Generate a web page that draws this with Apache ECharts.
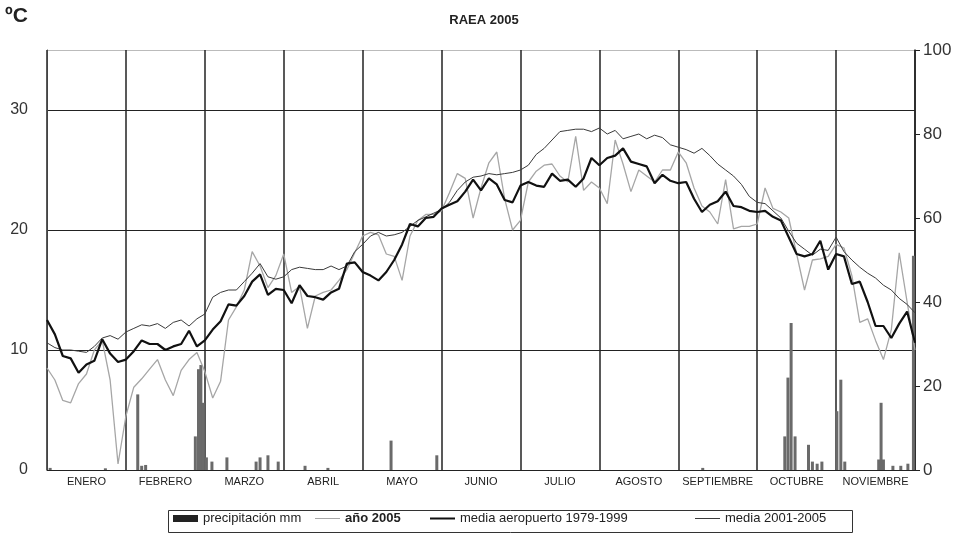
<!DOCTYPE html>
<html>
<head>
<meta charset="utf-8">
<title>RAEA 2005</title>
<script src="https://cdn.jsdelivr.net/npm/echarts@6/dist/echarts.min.js"></script>
<style>
  html, body { margin: 0; padding: 0; background: #fff; }
  #chart { width: 968px; height: 541px; }
</style>
</head>
<body>
<div id="chart"></div>
<script>
// month names (x axis labels)
const months = ['ENERO', 'FEBRERO', 'MARZO', 'ABRIL', 'MAYO', 'JUNIO', 'JULIO', 'AGOSTO', 'SEPTIEMBRE', 'OCTUBRE', 'NOVIEMBRE'];

// temperature readings every 0.1 month, from 1 Jan to 30 Nov
const step = 0.1;
const ano2005 = [
  8.5, 7.5, 5.8, 5.6, 7.2, 8.0, 10.0, 10.8, 7.5, 0.5,
  4.5, 6.9, 7.6, 8.4, 9.2, 7.5, 6.2, 8.3, 9.2, 9.8,
  8.2, 6.0, 7.4, 12.5, 13.6, 15.0, 18.2, 17.0, 15.2, 16.2,
  18.0, 14.8, 15.3, 11.8, 14.5, 14.8, 15.0, 15.8, 16.7, 18.1,
  19.5, 19.8, 19.6, 18.0, 17.8, 15.8, 19.5, 20.8, 21.3, 21.3,
  21.6, 23.1, 24.7, 24.3, 21.0, 23.5, 25.6, 26.5, 22.6, 20.0,
  20.8, 24.0, 24.9, 25.4, 25.5, 24.5, 24.0, 27.8, 23.3, 24.0,
  23.5, 22.2, 27.5, 25.5, 23.2, 25.0, 24.5, 24.0, 25.0, 25.0,
  26.5, 25.6, 23.5, 22.0, 21.5, 20.5, 24.2, 20.1, 20.3, 20.3,
  20.5, 23.5, 21.8, 21.5, 21.0, 18.0, 15.0, 17.5, 17.6, 17.8,
  18.8, 18.5, 16.2, 12.3, 12.6, 10.8, 9.2, 11.7, 18.1, 14.0,
  10.0
];
const mediaAeropuerto = [
  12.5, 11.3, 9.5, 9.3, 8.1, 8.8, 9.1, 10.9, 9.7, 9.0,
  9.2, 9.9, 10.8, 10.5, 10.5, 10.0, 10.3, 10.5, 11.6, 10.3,
  10.8, 11.7, 12.4, 13.8, 13.7, 14.5, 15.7, 16.3, 14.6, 15.1,
  15.0, 13.9, 15.4, 14.5, 14.4, 14.2, 14.8, 15.1, 17.2, 17.3,
  16.5, 16.2, 15.8, 16.5, 17.5, 18.8, 20.5, 20.3, 21.0, 21.1,
  21.8, 22.1, 22.4, 23.2, 24.2, 23.3, 24.3, 23.8, 22.5, 22.3,
  23.7, 24.0, 23.7, 23.6, 24.7, 24.1, 24.2, 23.6, 24.3, 26.0,
  25.4, 26.0, 26.2, 26.8, 25.7, 25.5, 25.3, 23.9, 24.6, 24.1,
  23.9, 24.0, 22.6, 21.5, 22.1, 22.4, 23.2, 22.0, 21.9, 21.6,
  21.5, 21.6, 21.1, 20.8, 19.4, 18.0, 17.8, 18.0, 19.1, 16.7,
  18.0, 17.8, 15.5, 15.7, 14.0, 12.0, 12.0, 11.0, 12.2, 13.2,
  10.6
];
const media2001 = [
  10.6, 10.2, 10.0, 10.0, 9.9, 9.8, 10.3, 11.0, 11.2, 10.9,
  11.5, 11.8, 12.1, 12.0, 12.2, 11.8, 12.3, 12.5, 12.0, 12.6,
  13.0, 14.4, 14.8, 15.0, 15.0, 15.7, 16.4, 17.2, 16.1, 15.9,
  16.1, 16.7, 16.9, 16.8, 16.7, 16.7, 17.0, 16.7, 17.0, 18.2,
  18.8, 19.5, 19.8, 19.5, 19.6, 19.8, 20.3, 20.8, 21.1, 21.4,
  21.7, 22.3, 23.3, 24.0, 24.4, 24.5, 24.7, 24.6, 24.7, 24.8,
  25.0, 25.4, 26.3, 26.8, 27.5, 28.2, 28.3, 28.4, 28.4, 28.2,
  28.5, 28.0, 28.3, 27.6, 27.8, 28.0, 27.6, 27.9, 27.7, 27.1,
  26.9, 26.7, 26.4, 26.8, 26.2, 25.5, 25.0, 24.5, 23.8, 22.8,
  22.3, 22.2, 21.6, 21.0, 19.9, 18.9, 18.4, 17.9, 18.4, 18.3,
  19.4, 18.2, 17.5, 16.9, 16.4, 16.0, 15.4, 15.0, 14.3, 13.8,
  13.1
];

// precipitation events: position in months, amount in mm
const rainAt = [
  0.04, 0.74, 1.15, 1.2, 1.25, 1.88, 1.92, 1.95, 1.98, 2.02,
  2.09, 2.28, 2.65, 2.7, 2.8, 2.93, 3.27, 3.56, 4.36, 4.94,
  8.31, 9.35, 9.39, 9.43, 9.48, 9.65, 9.7, 9.76, 9.82, 10.01,
  10.06, 10.11, 10.54, 10.57, 10.6, 10.72, 10.82, 10.91, 10.98
];
const rainMm = [
  0.5, 0.4, 18, 1, 1.2, 8, 24, 25, 16, 3,
  2, 3, 2, 3, 3.5, 2, 1, 0.5, 7, 3.5,
  0.5, 8, 22, 35, 8, 6, 2, 1.5, 2, 14,
  21.5, 2, 2.5, 16, 2.5, 1, 1, 1.5, 51
];

const legendNames = ['precipitación mm', 'año 2005', 'media aeropuerto 1979-1999', 'media 2001-2005'];
const legendLeft = [173, 315, 430, 695];
const legendIcons = ['rect', 'path://M0,0H25V1H0Z', 'path://M0,0H25V2H0Z', 'path://M0,0H25V1H0Z'];

const font = 'Liberation Sans, Arial, sans-serif';
const pairs = arr => arr.map((v, i) => [+(i * step).toFixed(2), v]);

// one legend per entry so each sits where it does in the original
const legends = legendNames.map((name, i) => ({
    left: legendLeft[i],
    top: 512,
    padding: 0,
    itemWidth: 25,
    itemHeight: 7,
    textStyle: {
        fontSize: 13, color: '#222', fontFamily: font,
        fontWeight: i === 1 ? 'bold' : 'normal'
    },
    data: [i === 0
        ? { name: name, icon: legendIcons[i], itemStyle: { color: '#222' } }
        : { name: name, icon: legendIcons[i] }]
}));

const chart = echarts.init(document.getElementById('chart'));
chart.setOption({
    animation: false,
    backgroundColor: '#fff',
    textStyle: { fontFamily: font },
    title: {
        text: 'RAEA 2005',
        left: 'center',
        top: 9,
        textStyle: { fontSize: 13, fontWeight: 'bold', color: '#222', fontFamily: font }
    },
    graphic: [{
        type: 'text',
        left: 5,
        top: 6,
        style: { text: 'ºC', font: 'bold 21px ' + font, fill: '#222' }
    }, {
        type: 'rect',
        left: 166,
        top: 508,
        shape: { width: 684, height: 22 },
        style: { fill: null, stroke: '#333', lineWidth: 1 }
    }],
    grid: { left: 47, right: 53, top: 50, bottom: 71 },
    legend: legends,
    xAxis: [{
        type: 'value',
        min: 0,
        max: 11,
        interval: 1,
        axisLine: { show: true, lineStyle: { color: '#222', width: 1 } },
        axisTick: { show: false },
        axisLabel: { show: false },
        splitLine: { show: true, lineStyle: { color: '#222', width: 1.5 } }
    }, {
        type: 'category',
        data: months,
        boundaryGap: true,
        position: 'bottom',
        axisLine: { show: false },
        axisTick: { show: false },
        splitLine: { show: false },
        axisLabel: { fontSize: 11, color: '#222', margin: 6, interval: 0 }
    }],
    yAxis: [{
        type: 'value',
        min: 0,
        max: 35,
        interval: 10,
        axisLine: { show: true, lineStyle: { color: '#444' } },
        axisTick: { show: false },
        axisLabel: { fontSize: 16, color: '#333', margin: 19, showMaxLabel: false },
        splitLine: { show: true, lineStyle: { color: ['#222', '#222', '#222', '#222', '#bbb'], width: 1 } }
    }, {
        type: 'value',
        min: 0,
        max: 100,
        interval: 20,
        position: 'right',
        axisLine: { show: true, lineStyle: { color: '#222', width: 1.5 } },
        axisTick: { show: true, length: 5, lineStyle: { color: '#222' } },
        axisLabel: { fontSize: 17, color: '#333', margin: 8 },
        splitLine: { show: false }
    }],
    series: [{
        name: legendNames[0],
        type: 'bar',
        xAxisIndex: 0,
        yAxisIndex: 1,
        barWidth: 3,
        itemStyle: { color: '#6a6a6a' },
        z: 2,
        data: rainAt.map((x, i) => [x, rainMm[i]])
    }, {
        name: legendNames[1],
        type: 'line',
        xAxisIndex: 0,
        yAxisIndex: 0,
        symbol: 'none',
        lineStyle: { color: '#a6a6a6', width: 1.3 },
        itemStyle: { color: '#a6a6a6' },
        z: 3,
        data: pairs(ano2005)
    }, {
        name: legendNames[2],
        type: 'line',
        xAxisIndex: 0,
        yAxisIndex: 0,
        symbol: 'none',
        lineStyle: { color: '#111', width: 2.2 },
        itemStyle: { color: '#111' },
        z: 5,
        data: pairs(mediaAeropuerto)
    }, {
        name: legendNames[3],
        type: 'line',
        xAxisIndex: 0,
        yAxisIndex: 0,
        symbol: 'none',
        lineStyle: { color: '#3a3a3a', width: 1 },
        itemStyle: { color: '#3a3a3a' },
        z: 4,
        data: pairs(media2001)
    }]
});
</script>
</body>
</html>
